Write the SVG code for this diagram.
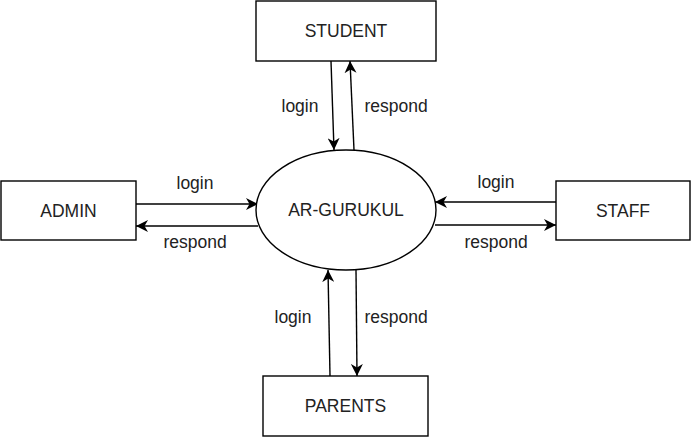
<svg xmlns="http://www.w3.org/2000/svg" width="693" height="438" viewBox="0 0 693 438">
<defs>
<marker id="arr" markerUnits="userSpaceOnUse" markerWidth="14" markerHeight="12" refX="12" refY="6" orient="auto" viewBox="0 0 14 12">
<path d="M0,0 L12,6 L0,12 L3.5,6 Z" fill="#000"/>
</marker>
</defs>
<style>
.box{fill:#fff;stroke:#000;stroke-width:1.4}
.lbl{font-family:"Liberation Sans",Arial,sans-serif;font-size:17.5px;fill:#222;text-anchor:middle}
.ln{stroke:#000;stroke-width:1.4;fill:none;marker-end:url(#arr)}
</style>
<rect width="693" height="438" fill="#fff"/>
<g id="connectors">
<line class="ln" x1="331" y1="61" x2="334" y2="150"/>
<line class="ln" x1="354" y1="150" x2="350" y2="61"/>
<line class="ln" x1="136" y1="204" x2="258" y2="204"/>
<line class="ln" x1="258" y1="226" x2="136" y2="226"/>
<line class="ln" x1="556" y1="202" x2="435" y2="202"/>
<line class="ln" x1="435" y1="225" x2="556" y2="225"/>
<line class="ln" x1="330" y1="376" x2="328" y2="270"/>
<line class="ln" x1="356" y1="270" x2="357" y2="376"/>
<text class="lbl" x="300" y="112">login</text>
<text class="lbl" x="396" y="112">respond</text>
<text class="lbl" x="195" y="189">login</text>
<text class="lbl" x="195" y="248">respond</text>
<text class="lbl" x="496" y="188">login</text>
<text class="lbl" x="496" y="248">respond</text>
<text class="lbl" x="293" y="323">login</text>
<text class="lbl" x="396" y="323">respond</text>
</g>
<g id="student">
<rect class="box" x="256" y="1" width="180" height="60"/>
<text class="lbl" x="346" y="37">STUDENT</text>
</g>
<g id="admin">
<rect class="box" x="1" y="181" width="135" height="59"/>
<text class="lbl" x="68.5" y="217">ADMIN</text>
</g>
<g id="staff">
<rect class="box" x="556" y="181" width="134" height="59"/>
<text class="lbl" x="623" y="217">STAFF</text>
</g>
<g id="parents">
<rect class="box" x="263" y="376" width="165" height="60"/>
<text class="lbl" x="345.5" y="412">PARENTS</text>
</g>
<g id="ar-gurukul">
<ellipse class="box" cx="346" cy="210" rx="90" ry="60"/>
<text class="lbl" x="346" y="216">AR-GURUKUL</text>
</g>
</svg>
